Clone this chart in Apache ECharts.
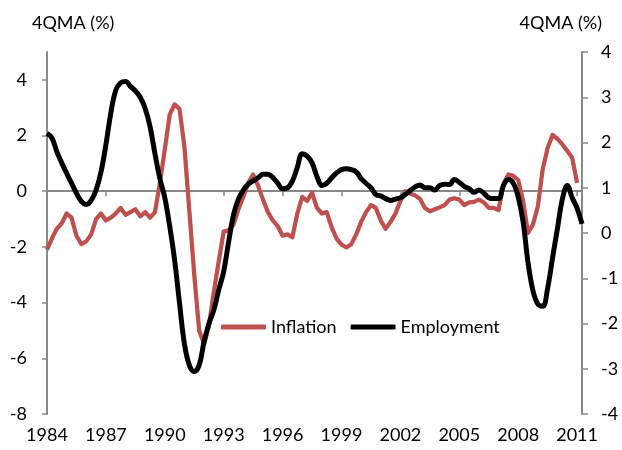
<!DOCTYPE html>
<html>
<head>
  <meta charset="utf-8">
  <title>Inflation and Employment</title>
  <script src="https://cdn.jsdelivr.net/npm/echarts@6/dist/echarts.min.js"></script>
  <style>
    html, body { margin: 0; padding: 0; background: #fff; }
    #main { width: 622px; height: 450px; }
  </style>
</head>
<body>
  <div id="main"></div>
  <script>
    // quarterly categories, 1984Q1 .. 2011Q2
    var quarters = [];
    for (var y = 1984; y <= 2011; y++) {
      for (var q = 1; q <= 4; q++) {
        if (y === 2011 && q > 2) break;
        quarters.push(y + 'Q' + q);
      }
    }

    // left axis, 4QMA (%)
    var inflation = [
      -2.1, -1.7, -1.35, -1.15, -0.8, -0.95, -1.6, -1.9, -1.8, -1.55,
      -1.0, -0.8, -1.05, -0.95, -0.8, -0.6, -0.85, -0.75, -0.65, -0.9,
      -0.75, -0.95, -0.75, 0.3, 1.5, 2.75, 3.12, 2.95, 1.6, -0.7,
      -3.0, -5.0, -5.5, -4.8, -3.6, -2.5, -1.45, -1.4, -1.2, -0.65,
      -0.2, 0.3, 0.6, 0.2, -0.3, -0.75, -1.05, -1.25, -1.6, -1.55,
      -1.65, -0.8, -0.2, -0.35, -0.05, -0.6, -0.8, -0.75, -1.3, -1.7,
      -1.92, -2.02, -1.9, -1.55, -1.1, -0.75, -0.5, -0.6, -1.05, -1.35,
      -1.1, -0.8, -0.35, 0.0, -0.08, -0.15, -0.28, -0.6, -0.72, -0.65,
      -0.58, -0.5, -0.3, -0.25, -0.3, -0.5, -0.4, -0.38, -0.3, -0.4,
      -0.6, -0.6, -0.68, 0.25, 0.6, 0.55, 0.4, -0.35, -1.5, -1.2,
      -0.55, 0.8, 1.55, 2.02, 1.88, 1.68, 1.45, 1.2, 0.3, null
    ];

    // right axis, 4QMA (%)
    var employment = [
      2.2, 2.1, 1.8, 1.55, 1.32, 1.1, 0.88, 0.7, 0.63, 0.72,
      0.95, 1.35, 1.95, 2.65, 3.15, 3.32, 3.35, 3.24, 3.14, 3.0,
      2.75, 2.35, 1.75, 1.2, 0.78, 0.15, -0.6, -1.55, -2.45, -2.92,
      -3.06, -2.92, -2.4, -2.0, -1.7, -1.25, -0.85, -0.2, 0.4, 0.75,
      0.95, 1.08, 1.15, 1.22, 1.3, 1.3, 1.23, 1.1, 0.98, 1.0,
      1.15, 1.45, 1.75, 1.7, 1.55, 1.25, 1.05, 1.1, 1.22, 1.33,
      1.4, 1.42, 1.4, 1.35, 1.2, 1.1, 1.0, 0.85, 0.82, 0.76,
      0.72, 0.75, 0.78, 0.85, 0.94, 1.02, 1.06, 1.0, 1.0, 0.95,
      1.05, 1.08, 1.07, 1.18, 1.12, 1.03, 0.98, 0.9, 0.95, 0.88,
      0.78, 0.76, 0.76, 1.05, 1.18, 1.1, 0.8, 0.25, -0.65, -1.27,
      -1.57, -1.62, -1.22, -0.55, 0.1, 0.75, 1.05, 0.78, 0.55, 0.2
    ];

    var leftTicks = [-8, -6, -4, -2, 0, 2, 4];

    var font = 'Lato';
    var axisGrey = '#898989';

    var chart = echarts.init(document.getElementById('main'));

    var option = {
      animation: false,
      textStyle: { fontFamily: font },
      title: [
        { text: '4QMA (%)', left: 32, top: 14, padding: 0,
          textStyle: { fontFamily: font, fontSize: 18, fontWeight: 'normal', color: '#000' } },
        { text: '4QMA (%)', right: 20, top: 14, padding: 0,
          textStyle: { fontFamily: font, fontSize: 18, fontWeight: 'normal', color: '#000' } }
      ],
      legend: {
        left: 216,
        top: 313,
        itemWidth: 45,
        itemHeight: 5,
        itemGap: 14,
        icon: 'roundRect',
        textStyle: { fontFamily: font, fontSize: 18, color: '#000' },
        data: ['Inflation', 'Employment']
      },
      grid: { left: 47, right: 40, top: 52, bottom: 36 },
      xAxis: [
        {
          type: 'category',
          data: quarters,
          boundaryGap: false,
          position: 'bottom',
          axisLine: { show: false, onZero: false },
          axisTick: { show: false },
          splitLine: { show: false },
          axisLabel: {
            interval: 11,
            margin: 12,
            fontFamily: font,
            fontSize: 18,
            color: '#000',
            formatter: function (v) { return v.slice(0, 4); }
          }
        },
        {
          type: 'category',
          data: quarters,
          boundaryGap: false,
          position: 'top',
          axisLine: { show: true, onZero: true, lineStyle: { color: axisGrey, width: 2 } },
          axisTick: { show: true, inside: true, interval: 11, length: 5, lineStyle: { color: axisGrey, width: 1.5 } },
          axisLabel: { show: false },
          splitLine: { show: false }
        }
      ],
      yAxis: [
        {
          type: 'value',
          min: -8,
          max: 5,
          interval: 2,
          position: 'left',
          axisLine: { show: true, lineStyle: { color: axisGrey, width: 2 } },
          axisTick: { show: true, length: 5, customValues: leftTicks, lineStyle: { color: axisGrey, width: 1.5 } },
          axisLabel: { margin: 20, customValues: leftTicks, fontFamily: font, fontSize: 18, color: '#000' },
          splitLine: { show: false }
        },
        {
          type: 'value',
          min: -4,
          max: 4,
          interval: 1,
          position: 'right',
          axisLine: { show: true, lineStyle: { color: axisGrey, width: 2 } },
          axisTick: { show: true, length: 6, lineStyle: { color: axisGrey, width: 1.5 } },
          axisLabel: { margin: 19, fontFamily: font, fontSize: 18, color: '#000' },
          splitLine: { show: false }
        }
      ],
      series: [
        {
          name: 'Inflation',
          type: 'line',
          yAxisIndex: 0,
          data: inflation,
          showSymbol: false,
          symbol: 'none',
          itemStyle: { color: '#C0504D' },
          lineStyle: { color: '#C0504D', width: 4.25, join: 'round' }
        },
        {
          name: 'Employment',
          type: 'line',
          yAxisIndex: 1,
          data: employment,
          showSymbol: false,
          symbol: 'none',
          smooth: 0.4,
          itemStyle: { color: '#000' },
          lineStyle: { color: '#000', width: 5, join: 'round' }
        }
      ]
    };

    chart.setOption(option);
  </script>
</body>
</html>
